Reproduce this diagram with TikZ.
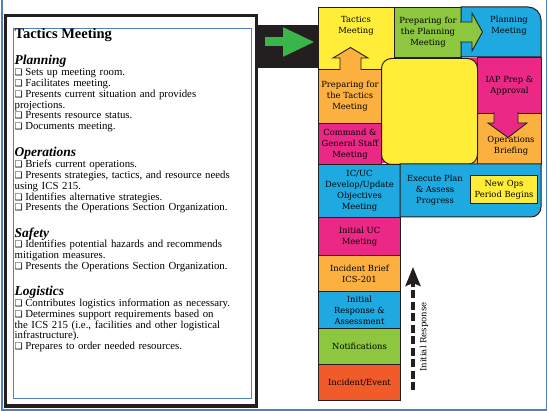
\documentclass[tikz,border=0pt]{standalone}
\usepackage{fontspec}
\setmainfont{Liberation Serif}
\newfontfamily\cellfont{DejaVu Serif}
\newfontfamily\boxfont{DejaVu Sans}
\usetikzlibrary{arrows.meta, positioning, calc}

\definecolor{icsyellow}{RGB}{255,237,56}
\definecolor{icsgreen}{RGB}{141,198,63}
\definecolor{icsblue}{RGB}{30,170,225}
\definecolor{icsmagenta}{RGB}{236,40,134}
\definecolor{icsorange}{RGB}{251,176,64}
\definecolor{icsred}{RGB}{241,90,41}
\definecolor{icsblack}{RGB}{35,31,32}
\definecolor{icsarrow}{RGB}{57,181,74}
\definecolor{icsframe}{RGB}{79,129,189}

\newcommand{\chk}{{\boxfont\fontsize{9}{10}\selectfont ❑}\hspace{2.5pt}}
\newcommand{\paneltitle}[1]{{\fontsize{14.5}{15}\selectfont\bfseries #1}}
\newcommand{\panelsec}[1]{{\fontsize{13.5}{14}\selectfont\bfseries\itshape #1}}

\begin{document}
\begin{tikzpicture}[x=1pt, y=-1pt,
  cell/.style={rectangle, draw=icsblack, line width=1pt, anchor=north west, inner sep=0pt, align=center, font=\cellfont\fontsize{8.4}{11}\selectfont},
  celltext/.style={align=center, inner sep=0pt, font=\cellfont\fontsize{8.4}{11}\selectfont},
  blockarrow/.style={draw=icsblack, line width=0.9pt, line join=miter},
  paneltext/.style={anchor=north west, text width=236pt, align=left, inner sep=1pt, font=\fontsize{10.8}{10.8}\selectfont},
  resparrow/.style={icsblack, line width=3.5pt, dash pattern=on 8pt off 3.5pt, -{Stealth[length=19pt,width=15pt,inset=3pt]}},
  resplbl/.style={rotate=90, inner sep=0pt, font=\cellfont\fontsize{8.5}{10}\selectfont},
  garrow/.style={icsarrow, line width=9pt, -{Triangle[length=32pt,width=27pt]}}
]
  \useasboundingbox (0,0) rectangle (548,411);

  % frames
  \draw[icsframe, line width=1.2pt] (2,0) -- (2,410) -- (546.5,410) -- (546.5,0);
  \draw[icsblack, line width=3.5pt] (5.7,15.7) rectangle (256.3,406.2);
  \draw[icsframe, line width=1pt] (13.5,28.5) rectangle (251.5,398.5);
  \fill[icsblack] (256,25) rectangle (318,68);

  % left panel
  \node[paneltext] (tacticslist) at (13.5,27.5) {%
    \paneltitle{Tactics Meeting}\\[12.5pt]
    \panelsec{Planning}\\
    \chk Sets up meeting room.\\
    \chk Facilitates meeting.\\
    \chk Presents current situation and provides\\
    projections.\\
    \chk Presents resource status.\\
    \chk Documents meeting.\\[14.5pt]
    \panelsec{Operations}\\
    \chk Briefs current operations.\\
    \chk Presents strategies, tactics, and resource needs\\
    using ICS 215.\\
    \chk Identifies alternative strategies.\\
    \chk Presents the Operations Section Organization.\\[13.5pt]
    \panelsec{Safety}\\
    \chk Identifies potential hazards and recommends\\
    mitigation measures.\\
    \chk Presents the Operations Section Organization.\\[13.5pt]
    \panelsec{Logistics}\\
    \chk Contributes logistics information as necessary.\\
    \chk Determines support requirements based on\\
    the ICS 215 (i.e., facilities and other logistical\\
    infrastructure).\\
    \chk Prepares to order needed resources.};

  % planning cycle
  \node[cell, fill=icsyellow, minimum width=76pt, minimum height=62pt] (tac) at (318,7) {};
  \node[cell, fill=icsgreen, minimum width=67pt, minimum height=50pt] (prepplan) at (394,7) {Preparing for\\the Planning\\Meeting};
  \path[draw=icsblack, line width=1pt, fill=icsblue] (461,7) -- (528,7) arc[start angle=90, end angle=0, radius=13pt] -- (541,57) -- (461,57) -- cycle;
  \node[cell, fill=icsorange, minimum width=63pt, minimum height=54pt] (preptac) at (318,69) {Preparing for\\the Tactics\\Meeting};
  \node[cell, fill=icsmagenta, minimum width=63pt, minimum height=41pt] (cmd) at (318,123) {Command \&\\General Staff\\Meeting};
  \node[cell, fill=icsmagenta, minimum width=64pt, minimum height=56pt] (iap) at (477,57) {IAP Prep \&\\Approval};
  \node[cell, fill=icsorange, minimum width=64pt, minimum height=51pt] (opsb) at (477,113) {};
  \fill[icsmagenta] (381.5,154) rectangle (391,163.5);
  \fill[icsmagenta] (467,57.6) rectangle (476.5,68);
  \fill[icsorange] (467,154) rectangle (476.5,163.5);
  \node[cell, fill=icsyellow, rounded corners=10pt, minimum width=96pt, minimum height=106pt] (hub) at (381,58) {};

  \node[cell, fill=icsblue, minimum width=82pt, minimum height=53pt] (icuc) at (318,164) {IC/UC\\Develop/Update\\Objectives\\Meeting};
  \path[draw=icsblack, line width=1pt, fill=icsblue] (400,164) -- (541,164) -- (541,207) arc[start angle=0, end angle=-90, radius=10pt] -- (400,217) -- cycle;
  \node[cell, fill=icsyellow, minimum width=67pt, minimum height=28pt] (newops) at (470,175) {New Ops\\Period Begins};
  \node[cell, fill=icsmagenta, minimum width=82pt, minimum height=38pt] (iuc) at (318,217) {Initial UC\\Meeting};
  \node[cell, fill=icsorange, minimum width=82pt, minimum height=36pt] (brief) at (318,255) {Incident Brief\\ICS-201};
  \node[cell, fill=icsblue, minimum width=82pt, minimum height=37pt] (initresp) at (318,291) {Initial\\Response \&\\Assessment};
  \node[cell, fill=icsgreen, minimum width=82pt, minimum height=36pt] (notif) at (318,328) {Notifications};
  \node[cell, fill=icsred, minimum width=82pt, minimum height=36pt] (event) at (318,364) {Incident/Event};

  % block arrows
  \path[blockarrow, fill=icsorange] (340,70) -- (340,58) -- (333,58) -- (350.5,47.5) -- (368,58) -- (361,58) -- (361,70);
  \path[blockarrow, fill=icsgreen] (460,22) -- (472,22) -- (472,13) -- (482.5,32) -- (472,51) -- (472,42) -- (460,42);
  \path[blockarrow, fill=icsmagenta] (494,112) -- (494,123) -- (488,123) -- (508,137.5) -- (527,123) -- (518,123) -- (518,112);

  \node[celltext] (tactxt) at (356,25.5) {Tactics\\Meeting};
  \node[celltext] (plan) at (509,25.5) {Planning\\Meeting};
  \node[celltext] (opsbtxt) at (511,146) {Operations\\Briefing};
  \node[celltext] (exec) at (435,190.5) {Execute Plan\\\& Assess\\Progress};

  % arrows
  \coordinate (gstart) at (265,42);
  \draw[garrow, shorten >=3pt] (gstart) -- (gstart -| tac.west);
  \coordinate (irstart) at (413,390);
  \coordinate (irend) at (413,267);
  \draw[resparrow] (irstart) -- (irend);
  \node[resplbl] (resptxt) at (424,337) {Initial Response};
\end{tikzpicture}
\end{document}
